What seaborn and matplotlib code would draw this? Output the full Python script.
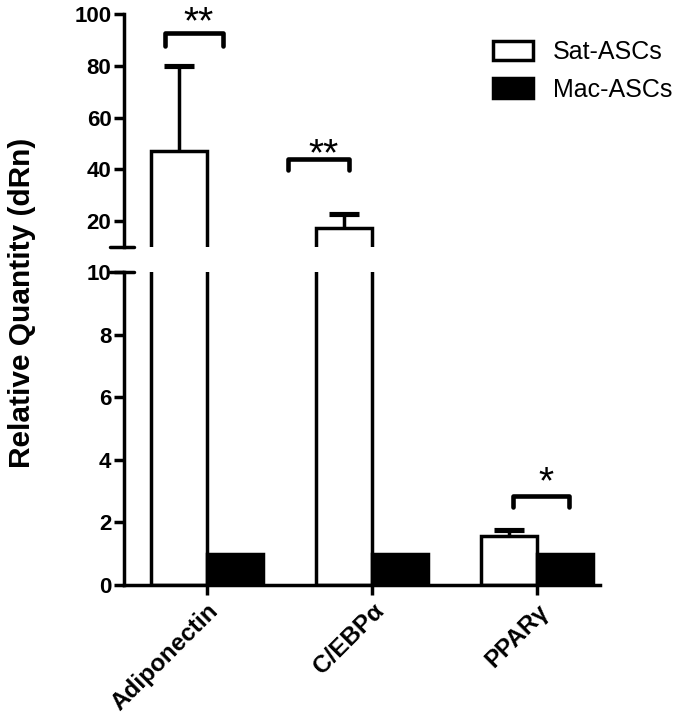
import pandas as pd
import numpy as np
import seaborn as sns
import matplotlib.pyplot as plt

# **Data**
genes = ['Adiponectin', 'C/EBPα', 'PPARγ']
groups = ['Sat-ASCs', 'Mac-ASCs']
sat_mean = [47.0, 17.6, 1.57]
sat_err = [33.0, 5.1, 0.19]
mac_mean = [1.0, 1.0, 1.0]
stars = ['**', '**', '*']

df = pd.DataFrame({
    'gene': genes * 2,
    'group': [groups[0]] * 3 + [groups[1]] * 3,
    'value': sat_mean + mac_mean,
})

sns.set_style('white', {'axes.edgecolor': 'black', 'text.color': 'black',
                        'xtick.color': 'black', 'ytick.color': 'black'})
plt.rcParams['font.family'] = ['Liberation Sans', 'DejaVu Sans']

fig = plt.figure(figsize=(6.85, 7.25), dpi=100)
ax_top = fig.add_axes([0.181, 0.659, 0.695, 0.322])
ax_bot = fig.add_axes([0.181, 0.193, 0.695, 0.432])

lw = 2.5
for ax, show_leg in [(ax_top, True), (ax_bot, False)]:
    sns.barplot(data=df, x='gene', y='value', hue='group', palette=['white', 'black'],
                edgecolor='black', linewidth=lw, width=0.68, errorbar=None,
                legend=show_leg, ax=ax)
    # upper error bars on the Sat-ASCs bars (stem + cap, no lower cap)
    sat_bars = ax.containers[0]
    xs = np.array([p.get_x() + p.get_width() / 2 for p in sat_bars])
    tops = np.array(sat_mean) + np.array(sat_err)
    ax.vlines(xs, sat_mean, tops, color='black', lw=lw, zorder=1)
    ax.plot(xs, tops, ls='none', marker='_', ms=22, mew=lw + 1.2, color='black', zorder=1)
    ax.set_xlim(-0.503, 2.38)
    ax.set_xlabel('')
    ax.set_ylabel('')
    for s in ['top', 'right']:
        ax.spines[s].set_visible(False)
    ax.spines['left'].set_linewidth(lw)
    ax.spines['bottom'].set_linewidth(lw)
    ax.tick_params(axis='y', length=7, width=lw, direction='out', left=True, labelsize=16, pad=2)

# top segment: 10-100
ax_top.set_ylim(10, 100)
ax_top.set_yticks([20, 40, 60, 80, 100])
ax_top.spines['bottom'].set_visible(False)
ax_top.tick_params(axis='x', bottom=False, labelbottom=False)

# bottom segment: 0-10
ax_bot.set_ylim(0, 10)
ax_bot.set_yticks([0, 2, 4, 6, 8, 10])
ax_bot.tick_params(axis='x', bottom=True, length=7, width=lw, direction='out')
ax_bot.set_xticks(range(len(genes)))
ax_bot.set_xticklabels(genes, rotation=45, ha='right', rotation_mode='anchor',
                       fontsize=17.5, fontweight='bold')
for ax in (ax_top, ax_bot):
    for t in ax.get_yticklabels():
        t.set_fontweight('bold')

# break marks
ax_top.plot([-0.03, 0.02], [0, 0], transform=ax_top.transAxes, color='black', lw=lw, clip_on=False)
ax_bot.plot([-0.03, 0.02], [1, 1], transform=ax_bot.transAxes, color='black', lw=lw, clip_on=False)

# significance brackets (x in data units, y in each segment's data units)
def bracket(ax, x0, x1, y, leg, label, ytext):
    ax.plot([x0, x0, x1, x1], [y - leg, y, y, y - leg], color='black', lw=lw + 0.8,
            solid_capstyle='round', solid_joinstyle='round', clip_on=False)
    ax.text((x0 + x1) / 2 + 0.03, ytext, label, ha='center', va='center', fontsize=28,
            clip_on=False)

bracket(ax_top, -0.255, 0.095, 92.5, 5, stars[0], 96.2)
bracket(ax_top, 1 - 0.51, 1 - 0.14, 44.2, 4.5, stars[1], 45.5)
bracket(ax_bot, 2 - 0.15, 2 + 0.19, 2.85, 0.35, stars[2], 3.25)

handles, labels = ax_top.get_legend_handles_labels()
ax_top.legend(handles, labels, loc='upper left', bbox_to_anchor=(0.72, 0.945),
              bbox_transform=fig.transFigure, frameon=False, fontsize=18,
              handlelength=1.6, handleheight=0.8, handletextpad=0.8,
              labelspacing=0.55, borderpad=0, borderaxespad=0)

fig.text(0.032, 0.582, 'Relative Quantity (dRn)', rotation=90, ha='center', va='center',
         fontsize=21.5, fontweight='bold')

fig.savefig('out.png', dpi=100)
